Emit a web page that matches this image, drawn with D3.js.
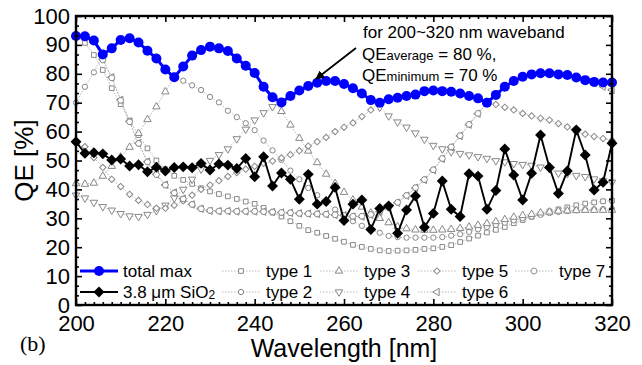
<!DOCTYPE html>
<html>
<head>
<meta charset="utf-8">
<script src="https://cdn.jsdelivr.net/npm/d3@7"></script>
<style>
  body { margin: 0; background: #fff; }
  svg { display: block; }
  text { font-family: Arial, "Liberation Sans", sans-serif; fill: #000; }
</style>
</head>
<body>
<div id="chart"></div>
<script>
// wavelength grid [nm]
var wavelengths = [200,202,204,206,208,210,212,214,216,218,220,
                   222,224,226,228,230,232,234,236,238,240,
                   242,244,246,248,250,252,254,256,258,260,
                   262,264,266,268,270,272,274,276,278,280,
                   282,284,286,288,290,292,294,296,298,300,
                   302,304,306,308,310,312,314,316,318,320];

var totalMax = [93.1,93,91.5,86.7,88.8,91.7,92.3,90.8,88,85.3,81.5,
                78.8,82.5,86.3,88.2,89.4,88.8,87.9,85.3,82.8,80.3,
                75.5,71.9,70.1,72.3,74.2,75.8,76.9,77.5,77.5,76.5,
                75,73.2,70.9,70,71.2,71.7,72.3,72.8,74,74.2,
                74,73.8,73.2,72.3,71.5,70,72.7,75.5,77.5,79,
                79.8,80.2,80.2,79.8,79.6,78.7,77.8,77.2,77,77];

var sio2 = [56.5,52.5,52.7,52.3,50.2,50.5,48.1,48.5,46.1,47.7,46.4,
            47.6,47.8,47.5,49,46.7,48.8,48.4,47.2,50.7,44.4,
            51.3,41.2,45.7,43.5,36.6,45.2,34.9,35.8,40.7,29.2,
            34.9,36.3,26.1,33.4,34.3,24.8,32.9,37.7,26.9,31.7,
            42.9,33.1,30.6,45.4,44.6,33.1,39.6,54,45,36.3,
            45.6,58.8,47.6,38.6,46.4,60.6,51.9,39.8,42.5,56];

var type1 = [93,90.7,86.5,81.3,75,69.5,63.8,58.8,54.2,50,47,
             44.7,43.3,41.9,40.4,39.3,38.4,37.6,36.7,35.8,35,
             33.6,32,30.6,29,27.4,25.9,25,23.9,22.9,21.9,
             20.8,20.1,19.4,18.9,18.7,18.8,18.9,19.1,19.4,19.6,
             20.1,20.7,21.8,23,24,25.1,26,27,28.3,29.4,
             30.5,31.5,32.4,33.1,33.8,34.5,35.1,35.5,35.9,36.1];

var type2 = [70,75.5,80.5,86.5,88.8,91.7,92.3,90.8,88,85.3,81.5,
             79.2,77.6,76,74.4,72,70.1,67.2,65,62.9,60.5,
             56.9,53.5,50.2,46.5,43.5,40.5,38,35.5,33,31,
             29,27.4,26,25,23.9,23.5,23.3,23.3,23.3,23.3,
             23.5,24,24.5,25.3,26.2,27,27.7,28.5,29.3,30,
             30.6,31.2,31.8,32.2,32.5,32.8,33,33.1,33.2,33.2];

var type3 = [42,41.8,42.2,44.6,48,51.2,54.6,59.4,64.2,68.6,73.8,
             78.8,82.5,86.3,88.2,89.4,88.8,87.9,85.3,82.8,80.3,
             75.5,71.9,67,62.3,57.7,53.3,49.3,45.3,42.1,39,
             36.4,33.9,31.9,30,28.5,27.1,26.4,26,25.9,25.9,
             26,26.2,26.5,27,27.6,28.2,28.9,29.6,30.4,31,
             31.4,31.9,32.2,32.5,32.6,32.7,32.8,32.8,32.8,32.8];

var type4 = [38,37,35.5,34,32.8,31.6,30.8,30.6,31.3,32.6,34.5,
             37,40,43.5,47,50,52,54,57.5,60.8,64,
             66.5,68.6,70.3,72.3,74.2,75.8,76.9,77.5,77.5,76.5,
             75,73.2,70.9,68.4,65.4,63.3,61.5,59.5,57.3,55.2,
             54,53,52.4,51.9,51.3,50.7,49.9,49.5,48.9,48.6,
             48.3,47.7,47.1,45.6,45.4,44.8,44.4,43.6,43,42.5];

var type5 = [56,54.8,51,47.6,43.5,41,38.3,36.2,34.8,33.5,33.5,
             34.5,36,38,40,41.5,43,44.5,45.8,47,48,
             49,49.8,50.9,52,53.4,55,56.5,58,60,61.5,
             63,65.2,67.5,70,71.2,71.7,72.3,72.8,74,74.2,
             74,73.8,73.2,72.3,71.5,70.5,69.4,68.4,67.5,66.3,
             65.4,64.6,64,62.8,61.6,59.9,59.1,58.3,57.6,57];

var type6 = [93,92.5,91.4,85,78.8,71,63.5,56,49.6,45.2,41.6,
             38.9,36.8,34.8,33.3,32.6,32.5,32.5,32.4,32.4,32.4,
             32.3,32.2,32,31.9,31.7,31.6,31.5,31.4,31.2,31,
             30.6,30.6,31.2,32.3,33.6,35.4,37.8,40.5,43.3,46.7,
             50.6,54.6,58.5,62.4,66.2,70,72.7,75.5,77.5,79,
             79.8,80.2,80.2,79.8,79.6,78.7,77.8,76.8,75.6,74.4];

var type7 = [93,92.4,91.2,84.8,78.6,70.8,63.4,55.9,49.5,45.1,41.5,
             38.8,36.7,34.8,33.3,32.7,32.5,32.5,32.4,32.4,32.4,
             32.3,32.2,32,31.9,31.7,31.6,31.5,31.4,31.2,31,
             30.7,30.7,31.3,32.4,33.7,35.5,37.9,40.6,43.4,46.8,
             50.7,54.7,58.6,62.5,66.3,69.8,72.4,75.2,77.2,78.8,
             79.6,80,80.1,79.8,79.6,78.9,78.1,77.4,77,77];

var typeNames = ["type 1","type 2","type 3","type 4","type 5","type 6","type 7"];
var xTicks = [200,220,240,260,280,300,320];
var yTicks = [0,10,20,30,40,50,60,70,80,90,100];

var W = 642, H = 365;
var plotL = 76, plotR = 612, plotT = 16, plotB = 305;

var x = d3.scaleLinear().domain([200,320]).range([plotL,plotR]);
var y = d3.scaleLinear().domain([0,100]).range([plotB,plotT]);

var svg = d3.select("#chart").append("svg").attr("width",W).attr("height",H);

// hexagon for type 7
var symbolHexagon = {
  draw: function(ctx, size){
    var r = Math.sqrt(size / (1.5*Math.sqrt(3)));
    for (var i = 0; i < 6; i++){
      var a = Math.PI/3*i;
      if (i === 0) ctx.moveTo(r*Math.cos(a), r*Math.sin(a));
      else ctx.lineTo(r*Math.cos(a), r*Math.sin(a));
    }
    ctx.closePath();
  }
};

// marker shape + rotation for each type
var typeSymbols = [
  {type:d3.symbolSquare, rot:0, size:22},
  {type:d3.symbolCircle, rot:0, size:22},
  {type:d3.symbolTriangle, rot:0, size:24},
  {type:d3.symbolTriangle, rot:180, size:24},
  {type:d3.symbolSquare, rot:45, size:20},
  {type:d3.symbolTriangle, rot:-90, size:24},
  {type:symbolHexagon, rot:0, size:26}
];
var typeData = [type1,type2,type3,type4,type5,type6,type7];

var line = d3.line()
  .x(function(d,i){ return x(wavelengths[i]); })
  .y(function(d){ return y(d); });

var plot = svg.append("g");

// gray type curves
typeData.forEach(function(vals, k){
  var g = plot.append("g").attr("class","type");
  g.append("path").attr("d", line(vals))
    .attr("fill","none").attr("stroke","#b8b8b8")
    .attr("stroke-width",1).attr("stroke-dasharray","1.5,1.5");
  var sym = d3.symbol().type(typeSymbols[k].type).size(typeSymbols[k].size);
  g.selectAll("path.m").data(vals).enter().append("path")
    .attr("class","m")
    .attr("d", sym)
    .attr("transform", function(d,i){
      return "translate(" + x(wavelengths[i]) + "," + y(d) + ") rotate(" + typeSymbols[k].rot + ")";
    })
    .attr("fill","#fff").attr("stroke","#888").attr("stroke-width",1);
});

// 3.8 um SiO2
plot.append("path").attr("d", line(sio2))
  .attr("fill","none").attr("stroke","#000").attr("stroke-width",1.9);
plot.selectAll("path.dia").data(sio2).enter().append("path")
  .attr("class","dia")
  .attr("d", d3.symbol().type(d3.symbolSquare).size(60))
  .attr("transform", function(d,i){ return "translate(" + x(wavelengths[i]) + "," + y(d) + ") rotate(45)"; })
  .attr("fill","#000");

// total max
plot.append("path").attr("d", line(totalMax))
  .attr("fill","none").attr("stroke","#0000ff").attr("stroke-width",3);
plot.selectAll("circle.tm").data(totalMax).enter().append("circle")
  .attr("class","tm")
  .attr("cx", function(d,i){ return x(wavelengths[i]); })
  .attr("cy", function(d){ return y(d); })
  .attr("r", 5)
  .attr("fill","#0000ff");

// axes: ticks pointing inward, labels on bottom and left
var minorX = [], minorY = [];
for (var v = 200; v <= 320; v += 2) if (v % 20) minorX.push(v);
for (var k = 0; k < 30; k++) if (k % 3) minorY.push(k*10/3);

function styleAxis(g){
  g.select(".domain").remove();
  g.selectAll("line").attr("stroke","#000").attr("stroke-width",1.6);
}

svg.append("g").attr("transform","translate(0,"+plotB+")")
  .call(d3.axisBottom(x).tickValues(xTicks).tickSize(-6).tickPadding(10))
  .call(styleAxis)
  .selectAll("text").attr("font-size",22).style("font-family","Arial, 'Liberation Sans', sans-serif");
svg.append("g").attr("transform","translate(0,"+plotB+")")
  .call(d3.axisBottom(x).tickValues(minorX).tickSize(-3).tickFormat(""))
  .call(styleAxis);
svg.append("g").attr("transform","translate(0,"+plotT+")")
  .call(d3.axisTop(x).tickValues(xTicks).tickSize(-6).tickFormat(""))
  .call(styleAxis);
svg.append("g").attr("transform","translate(0,"+plotT+")")
  .call(d3.axisTop(x).tickValues(minorX).tickSize(-3).tickFormat(""))
  .call(styleAxis);

svg.append("g").attr("transform","translate("+plotL+",0)")
  .call(d3.axisLeft(y).tickValues(yTicks).tickSize(-6).tickPadding(6))
  .call(styleAxis)
  .selectAll("text").attr("font-size",22).style("font-family","Arial, 'Liberation Sans', sans-serif");
svg.append("g").attr("transform","translate("+plotL+",0)")
  .call(d3.axisLeft(y).tickValues(minorY).tickSize(-3).tickFormat(""))
  .call(styleAxis);
svg.append("g").attr("transform","translate("+plotR+",0)")
  .call(d3.axisRight(y).tickValues(yTicks).tickSize(-6).tickFormat(""))
  .call(styleAxis);
svg.append("g").attr("transform","translate("+plotR+",0)")
  .call(d3.axisRight(y).tickValues(minorY).tickSize(-3).tickFormat(""))
  .call(styleAxis);

// frame
svg.append("rect").attr("x",plotL).attr("y",plotT)
  .attr("width",plotR-plotL).attr("height",plotB-plotT)
  .attr("fill","none").attr("stroke","#000").attr("stroke-width",2.4);

// axis titles
svg.append("text").attr("x",(plotL+plotR)/2).attr("y",357)
  .attr("text-anchor","middle").attr("font-size",25).text("Wavelength [nm]");
svg.append("text").attr("transform","translate(33,"+((plotT+plotB)/2)+") rotate(-90)")
  .attr("text-anchor","middle").attr("font-size",26).text("QE [%]");
svg.append("text").attr("x",20).attr("y",351)
  .style("font-family","'Liberation Serif','Times New Roman',serif")
  .attr("font-size",22).text("(b)");

// annotation
var ann = svg.append("g");
ann.append("text").attr("x",363).attr("y",38).attr("font-size",17).text("for 200~320 nm waveband");
var t2 = ann.append("text").attr("x",362).attr("y",60).attr("font-size",17);
t2.append("tspan").text("QE");
t2.append("tspan").attr("font-size",13).text("average");
t2.append("tspan").text(" = 80 %,");
var t3 = ann.append("text").attr("x",362).attr("y",81).attr("font-size",17);
t3.append("tspan").text("QE");
t3.append("tspan").attr("font-size",13).text("minimum");
t3.append("tspan").text(" = 70 %");

svg.append("defs").append("marker").attr("id","ah")
  .attr("viewBox","0 0 10 10").attr("refX",9).attr("refY",5)
  .attr("markerWidth",5).attr("markerHeight",5).attr("orient","auto")
  .append("path").attr("d","M0,0 L10,5 L0,10 Z").attr("fill","#000");
svg.append("line").attr("x1",356).attr("y1",48).attr("x2",316).attr("y2",79)
  .attr("stroke","#000").attr("stroke-width",1.8).attr("marker-end","url(#ah)");

// legend
var leg = svg.append("g");
var rowY = [271, 292];
leg.append("line").attr("x1",80).attr("x2",118).attr("y1",rowY[0]).attr("y2",rowY[0])
  .attr("stroke","#0000ff").attr("stroke-width",3);
leg.append("circle").attr("cx",99).attr("cy",rowY[0]).attr("r",5).attr("fill","#0000ff");
leg.append("text").attr("x",123).attr("y",rowY[0]+6).attr("font-size",17).text("total max");
leg.append("line").attr("x1",80).attr("x2",118).attr("y1",rowY[1]).attr("y2",rowY[1])
  .attr("stroke","#000").attr("stroke-width",1.9);
leg.append("path").attr("d", d3.symbol().type(d3.symbolSquare).size(60))
  .attr("transform","translate(99,"+rowY[1]+") rotate(45)").attr("fill","#000");
var st = leg.append("text").attr("x",123).attr("y",rowY[1]+6).attr("font-size",17);
st.append("tspan").text("3.8 ");
st.append("tspan").text("μm SiO");
st.append("tspan").attr("font-size",12).attr("dy",1).text("2");

var legCols = [222, 320, 418, 515];
typeNames.forEach(function(name, k){
  var cx = legCols[Math.floor(k/2)], cy = rowY[k%2];
  leg.append("line").attr("x1",cx).attr("x2",cx+38).attr("y1",cy).attr("y2",cy)
    .attr("stroke","#b8b8b8").attr("stroke-width",1).attr("stroke-dasharray","1.5,1.5");
  leg.append("path").attr("d", d3.symbol().type(typeSymbols[k].type).size(typeSymbols[k].size))
    .attr("transform","translate("+(cx+19)+","+cy+") rotate("+typeSymbols[k].rot+")")
    .attr("fill","#fff").attr("stroke","#888").attr("stroke-width",1);
  leg.append("text").attr("x",cx+44).attr("y",cy+6).attr("font-size",17).text(name);
});
</script>
</body>
</html>
